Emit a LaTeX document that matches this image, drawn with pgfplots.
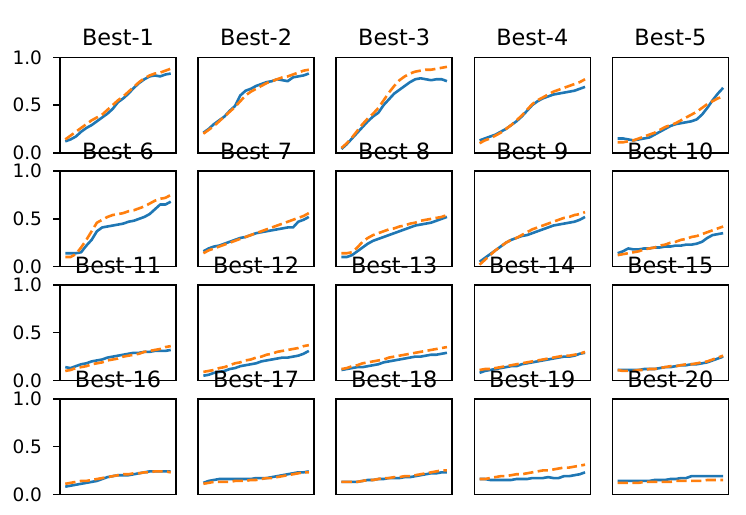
\documentclass[border=0pt]{standalone}
\usepackage{fontspec}
\setmainfont{DejaVu Sans}
\usepackage{pgfplots}
\pgfplotsset{compat=1.18}
\definecolor{mplblue}{HTML}{1F77B4}
\definecolor{mplorange}{HTML}{FF7F0E}
\pgfplotsset{
  sub/.style={
    width=116pt, height=95.5pt, scale only axis,
    xmin=-1, xmax=21, ymin=0, ymax=1,
    xtick=\empty, ytick=\empty,
    axis line style={line width=1.5pt, black},
    title style={font=\fontsize{22.4}{26}\selectfont, at={(0.5,1)}, anchor=base, yshift=5.7pt, inner sep=0pt},
  },
  firstcol/.style={
    ytick={0,0.5,1}, yticklabels={0.0,0.5,1.0},
    ytick pos=left,
    tick align=outside, major tick length=6.5pt,
    tick style={line width=1.5pt, black},
    yticklabel style={font=\fontsize{18.5}{22}\selectfont, xshift=-8pt},
    /pgf/number format/assume math mode=true,
  },
  bl/.style={mplblue, line width=2.6pt, line join=round, no markers},
  or/.style={mplorange, line width=2.6pt, line join=round, no markers, dash pattern=on 10.3pt off 4.4pt},
}
\newcommand{\panel}[6]{%
\begin{axis}[sub, at={(#1pt,#2pt)}, anchor=south west, title={#3}, #6]
\addplot[bl] table[row sep=\\, header=false, x expr=\coordindex, y index=0]{#4};
\addplot[or] table[row sep=\\, header=false, x expr=\coordindex, y index=0]{#5};
\end{axis}}
\begin{document}
\begin{tikzpicture}
\path[use as bounding box] (0pt,0pt) rectangle (746pt,514pt);
% Row 1
\panel{60}{361.2}{Best-1}
{0.12\\0.14\\0.17\\0.22\\0.26\\0.29\\0.33\\0.37\\0.41\\0.46\\0.53\\0.57\\0.62\\0.68\\0.73\\0.77\\0.80\\0.81\\0.80\\0.82\\0.83\\}
{0.14\\0.18\\0.22\\0.26\\0.30\\0.34\\0.37\\0.40\\0.45\\0.50\\0.55\\0.59\\0.64\\0.69\\0.74\\0.78\\0.81\\0.83\\0.84\\0.86\\0.88\\}
{firstcol}
\panel{198.1}{361.2}{Best-2}
{0.21\\0.25\\0.30\\0.34\\0.38\\0.44\\0.49\\0.60\\0.65\\0.67\\0.70\\0.72\\0.74\\0.75\\0.77\\0.76\\0.75\\0.79\\0.80\\0.81\\0.83\\}
{0.20\\0.24\\0.28\\0.33\\0.38\\0.43\\0.48\\0.54\\0.60\\0.64\\0.67\\0.70\\0.73\\0.75\\0.77\\0.79\\0.80\\0.82\\0.84\\0.86\\0.87\\}
{}
\panel{336.2}{361.2}{Best-3}
{0.04\\0.09\\0.15\\0.21\\0.27\\0.33\\0.38\\0.42\\0.50\\0.56\\0.62\\0.66\\0.70\\0.74\\0.77\\0.78\\0.77\\0.76\\0.77\\0.77\\0.75\\}
{0.05\\0.10\\0.16\\0.23\\0.30\\0.36\\0.41\\0.47\\0.55\\0.63\\0.70\\0.76\\0.80\\0.83\\0.85\\0.86\\0.87\\0.87\\0.88\\0.89\\0.90\\}
{}
\panel{474.3}{361.2}{Best-4}
{0.13\\0.15\\0.17\\0.19\\0.22\\0.25\\0.29\\0.33\\0.38\\0.44\\0.50\\0.54\\0.57\\0.59\\0.61\\0.62\\0.63\\0.64\\0.65\\0.67\\0.69\\}
{0.10\\0.13\\0.15\\0.18\\0.21\\0.25\\0.29\\0.34\\0.39\\0.45\\0.51\\0.55\\0.58\\0.61\\0.64\\0.66\\0.68\\0.70\\0.72\\0.74\\0.77\\}
{}
\panel{612.4}{361.2}{Best-5}
{0.15\\0.15\\0.14\\0.13\\0.14\\0.15\\0.16\\0.19\\0.22\\0.25\\0.28\\0.30\\0.31\\0.32\\0.33\\0.35\\0.40\\0.47\\0.55\\0.62\\0.68\\}
{0.11\\0.11\\0.12\\0.13\\0.15\\0.17\\0.19\\0.21\\0.24\\0.27\\0.29\\0.31\\0.34\\0.37\\0.40\\0.43\\0.47\\0.51\\0.54\\0.57\\0.59\\}
{}
% Row 2
\panel{60}{247.4}{Best-6}
{0.14\\0.14\\0.14\\0.15\\0.22\\0.28\\0.37\\0.41\\0.42\\0.43\\0.44\\0.45\\0.47\\0.48\\0.50\\0.52\\0.55\\0.60\\0.65\\0.65\\0.68\\}
{0.10\\0.10\\0.13\\0.20\\0.28\\0.37\\0.46\\0.49\\0.52\\0.54\\0.55\\0.56\\0.58\\0.59\\0.61\\0.63\\0.66\\0.69\\0.71\\0.72\\0.75\\}
{firstcol}
\panel{198.1}{247.4}{Best-7}
{0.16\\0.19\\0.21\\0.22\\0.24\\0.26\\0.28\\0.30\\0.31\\0.33\\0.35\\0.36\\0.37\\0.38\\0.39\\0.40\\0.41\\0.41\\0.47\\0.49\\0.52\\}
{0.14\\0.17\\0.19\\0.21\\0.23\\0.25\\0.27\\0.29\\0.31\\0.33\\0.35\\0.37\\0.39\\0.41\\0.43\\0.45\\0.47\\0.49\\0.51\\0.53\\0.56\\}
{}
\panel{336.2}{247.4}{Best-8}
{0.10\\0.10\\0.12\\0.16\\0.20\\0.24\\0.27\\0.29\\0.31\\0.33\\0.35\\0.37\\0.39\\0.41\\0.43\\0.44\\0.45\\0.46\\0.48\\0.50\\0.52\\}
{0.14\\0.14\\0.15\\0.20\\0.26\\0.30\\0.33\\0.35\\0.37\\0.39\\0.40\\0.42\\0.43\\0.45\\0.46\\0.48\\0.49\\0.50\\0.51\\0.52\\0.54\\}
{}
\panel{474.3}{247.4}{Best-9}
{0.05\\0.09\\0.13\\0.17\\0.21\\0.25\\0.28\\0.30\\0.32\\0.33\\0.35\\0.37\\0.39\\0.41\\0.43\\0.44\\0.45\\0.46\\0.47\\0.49\\0.52\\}
{0.02\\0.07\\0.12\\0.17\\0.21\\0.25\\0.28\\0.30\\0.33\\0.36\\0.39\\0.41\\0.43\\0.45\\0.47\\0.49\\0.51\\0.52\\0.54\\0.55\\0.57\\}
{}
\panel{612.4}{247.4}{Best-10}
{0.14\\0.16\\0.19\\0.18\\0.18\\0.19\\0.19\\0.20\\0.20\\0.21\\0.21\\0.22\\0.22\\0.23\\0.23\\0.24\\0.26\\0.30\\0.33\\0.34\\0.35\\}
{0.12\\0.13\\0.14\\0.15\\0.16\\0.18\\0.19\\0.20\\0.22\\0.23\\0.25\\0.26\\0.28\\0.29\\0.31\\0.32\\0.34\\0.36\\0.38\\0.40\\0.42\\}
{}
% Row 3
\panel{60}{133.5}{Best-11}
{0.14\\0.13\\0.15\\0.17\\0.18\\0.20\\0.21\\0.22\\0.24\\0.25\\0.26\\0.27\\0.28\\0.29\\0.29\\0.30\\0.30\\0.31\\0.31\\0.31\\0.32\\}
{0.10\\0.11\\0.13\\0.14\\0.15\\0.17\\0.18\\0.19\\0.21\\0.22\\0.23\\0.25\\0.26\\0.27\\0.28\\0.30\\0.31\\0.32\\0.33\\0.35\\0.36\\}
{firstcol}
\panel{198.1}{133.5}{Best-12}
{0.05\\0.06\\0.08\\0.09\\0.10\\0.12\\0.13\\0.15\\0.16\\0.17\\0.18\\0.20\\0.21\\0.22\\0.23\\0.24\\0.24\\0.25\\0.26\\0.28\\0.31\\}
{0.09\\0.10\\0.11\\0.13\\0.14\\0.16\\0.18\\0.19\\0.21\\0.22\\0.24\\0.25\\0.27\\0.28\\0.30\\0.31\\0.32\\0.33\\0.34\\0.36\\0.37\\}
{}
\panel{336.2}{133.5}{Best-13}
{0.11\\0.12\\0.13\\0.14\\0.14\\0.15\\0.16\\0.17\\0.19\\0.20\\0.21\\0.22\\0.23\\0.24\\0.25\\0.25\\0.26\\0.27\\0.27\\0.28\\0.29\\}
{0.12\\0.13\\0.15\\0.16\\0.18\\0.19\\0.20\\0.21\\0.22\\0.24\\0.25\\0.26\\0.27\\0.28\\0.29\\0.30\\0.31\\0.32\\0.33\\0.34\\0.35\\}
{}
\panel{474.3}{133.5}{Best-14}
{0.08\\0.10\\0.11\\0.12\\0.13\\0.14\\0.15\\0.15\\0.17\\0.18\\0.19\\0.20\\0.21\\0.22\\0.23\\0.24\\0.25\\0.25\\0.26\\0.28\\0.29\\}
{0.11\\0.12\\0.12\\0.13\\0.14\\0.15\\0.16\\0.17\\0.18\\0.19\\0.20\\0.21\\0.22\\0.23\\0.24\\0.25\\0.26\\0.26\\0.27\\0.28\\0.30\\}
{}
\panel{612.4}{133.5}{Best-15}
{0.11\\0.11\\0.11\\0.11\\0.11\\0.12\\0.12\\0.12\\0.13\\0.14\\0.14\\0.15\\0.16\\0.16\\0.17\\0.17\\0.18\\0.19\\0.21\\0.23\\0.25\\}
{0.11\\0.10\\0.10\\0.10\\0.11\\0.11\\0.12\\0.12\\0.13\\0.14\\0.15\\0.15\\0.16\\0.17\\0.17\\0.18\\0.19\\0.20\\0.22\\0.24\\0.26\\}
{}
% Row 4
\panel{60}{19.7}{Best-16}
{0.08\\0.09\\0.10\\0.11\\0.12\\0.13\\0.14\\0.16\\0.18\\0.19\\0.20\\0.20\\0.20\\0.21\\0.22\\0.23\\0.24\\0.24\\0.24\\0.24\\0.24\\}
{0.11\\0.12\\0.13\\0.14\\0.14\\0.15\\0.16\\0.17\\0.18\\0.19\\0.20\\0.21\\0.21\\0.22\\0.22\\0.23\\0.23\\0.24\\0.24\\0.24\\0.23\\}
{firstcol}
\panel{198.1}{19.7}{Best-17}
{0.12\\0.14\\0.15\\0.16\\0.16\\0.16\\0.16\\0.16\\0.16\\0.16\\0.17\\0.17\\0.17\\0.18\\0.19\\0.20\\0.21\\0.22\\0.23\\0.23\\0.24\\}
{0.11\\0.12\\0.13\\0.13\\0.13\\0.13\\0.14\\0.14\\0.14\\0.15\\0.15\\0.16\\0.17\\0.17\\0.18\\0.19\\0.20\\0.21\\0.22\\0.23\\0.23\\}
{}
\panel{336.2}{19.7}{Best-18}
{0.13\\0.13\\0.13\\0.13\\0.14\\0.15\\0.15\\0.16\\0.16\\0.17\\0.17\\0.17\\0.18\\0.18\\0.19\\0.20\\0.21\\0.22\\0.22\\0.23\\0.23\\}
{0.13\\0.13\\0.13\\0.13\\0.14\\0.15\\0.15\\0.16\\0.17\\0.17\\0.18\\0.18\\0.19\\0.19\\0.20\\0.21\\0.22\\0.23\\0.24\\0.25\\0.25\\}
{}
\panel{474.3}{19.7}{Best-19}
{0.16\\0.16\\0.15\\0.15\\0.15\\0.15\\0.15\\0.16\\0.16\\0.16\\0.17\\0.17\\0.17\\0.18\\0.17\\0.17\\0.19\\0.19\\0.20\\0.21\\0.23\\}
{0.16\\0.16\\0.17\\0.18\\0.19\\0.19\\0.20\\0.21\\0.21\\0.22\\0.23\\0.24\\0.25\\0.25\\0.26\\0.27\\0.28\\0.28\\0.29\\0.30\\0.31\\}
{}
\panel{612.4}{19.7}{Best-20}
{0.14\\0.14\\0.14\\0.14\\0.14\\0.14\\0.14\\0.15\\0.15\\0.15\\0.16\\0.16\\0.17\\0.17\\0.19\\0.19\\0.19\\0.19\\0.19\\0.19\\0.19\\}
{0.12\\0.12\\0.12\\0.12\\0.12\\0.13\\0.13\\0.13\\0.13\\0.13\\0.13\\0.14\\0.14\\0.14\\0.14\\0.14\\0.14\\0.15\\0.15\\0.15\\0.15\\}
{}
\end{tikzpicture}
\end{document}
